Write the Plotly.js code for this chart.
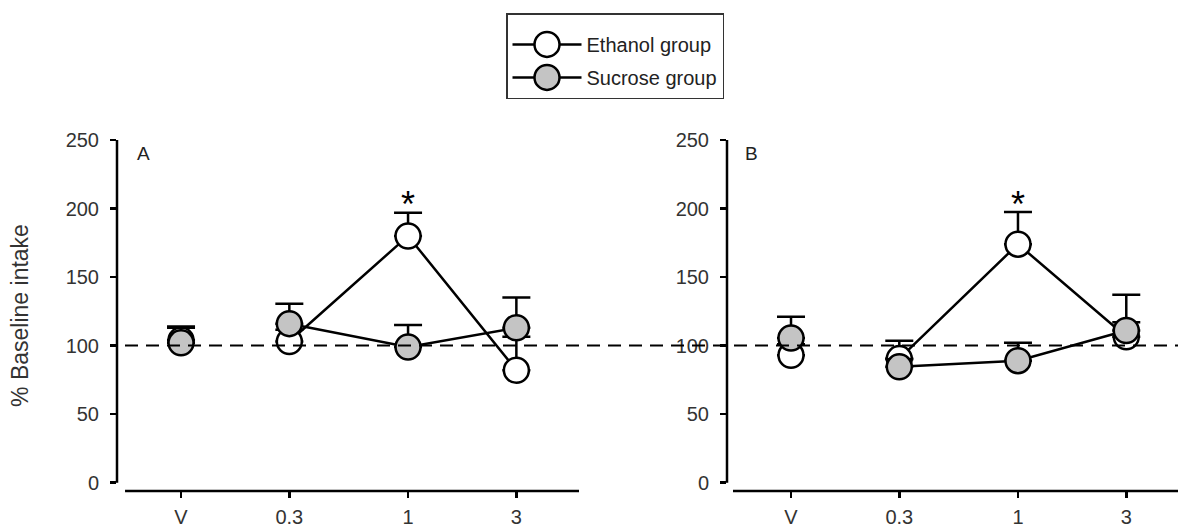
<!DOCTYPE html>
<html>
<head>
<meta charset="utf-8">
<script src="https://cdn.plot.ly/plotly-3.0.1.min.js"></script>
<style>html,body{margin:0;padding:0;background:#fff;} #chart{width:1178px;height:527px;}</style>
</head>
<body>
<div id="chart"></div>
<script>
// Dose categories (V = vehicle, drawn at the 0.1 position of the log dose axis)
const doseLabels = ["V", "0.3", "1", "3"];
const doseValues = [0.1, 0.3, 1, 3];
const yTicks = [0, 50, 100, 150, 200, 250];

// Panel A
const A_ethanol     = [104, 103, 180, 82];
const A_ethanol_err = [10, 8.5, 17, 24.5];
const A_sucrose     = [102, 116, 99, 113];
const A_sucrose_err = [11, 14.5, 16, 22];

// Panel B
const B_ethanol     = [93, 90.5, 174, 106.5];
const B_ethanol_err = [8, 13, 23.5, 10.5];
const B_sucrose     = [105.5, 84.5, 89, 111];
const B_sucrose_err = [15.5, 5.5, 13, 26];

const baseline = 100;
const sigDose = 1;

const W = 1178, H = 527;
const M = {l: 0, r: 0, t: 140, b: 36};
const PH = H - M.t - M.b;
const FONT = "Liberation Sans, Arial, sans-serif";
const markerBase = {size: 25, line: {color: "#000", width: 2.5}};

function errY(arr) {
  return {type: "data", symmetric: false, array: arr, arrayminus: arr.map(() => 0),
          color: "#000", thickness: 2.5, width: 14};
}

function panelTraces(eth, ethErr, suc, sucErr, xa, ya, legend) {
  const doseX = doseValues.slice(1);
  return [
    {x: doseX, y: eth.slice(1), error_y: errY(ethErr.slice(1)), xaxis: xa, yaxis: ya,
     mode: "lines+markers", name: "Ethanol group", legendgroup: "eth", showlegend: legend,
     line: {color: "#000", width: 2.5}, marker: Object.assign({color: "#fff"}, markerBase)},
    {x: [doseValues[0]], y: [eth[0]], error_y: errY([ethErr[0]]), xaxis: xa, yaxis: ya,
     mode: "markers", name: "Ethanol group", legendgroup: "eth", showlegend: false,
     marker: Object.assign({color: "#fff"}, markerBase)},
    {x: doseX, y: suc.slice(1), error_y: errY(sucErr.slice(1)), xaxis: xa, yaxis: ya,
     mode: "lines+markers", name: "Sucrose group", legendgroup: "suc", showlegend: legend,
     line: {color: "#000", width: 2.5}, marker: Object.assign({color: "#c4c4c4"}, markerBase)},
    {x: [doseValues[0]], y: [suc[0]], error_y: errY([sucErr[0]]), xaxis: xa, yaxis: ya,
     mode: "markers", name: "Sucrose group", legendgroup: "suc", showlegend: false,
     marker: Object.assign({color: "#c4c4c4"}, markerBase)}
  ];
}

const data = [].concat(
  panelTraces(A_ethanol, A_ethanol_err, A_sucrose, A_sucrose_err, "x", "y", true),
  panelTraces(B_ethanol, B_ethanol_err, B_sucrose, B_sucrose_err, "x2", "y2", false)
);

const tickFont = {family: FONT, size: 20, color: "#333"};
function xAxis(domain, range, anchor) {
  return {type: "log", domain: domain, range: range, tickvals: doseValues, ticktext: doseLabels,
          ticks: "outside", ticklen: 6, tickwidth: 2.5, tickcolor: "#000", anchor: anchor,
          showline: false, showgrid: false, zeroline: false, tickfont: tickFont,
          ticklabelstandoff: 2, fixedrange: true, automargin: false};
}
function yAxis(anchor, withTitle) {
  const ax = {range: [-6.1, 250], tickvals: yTicks, ticks: "outside", ticklen: 6, tickwidth: 2.5,
          tickcolor: "#000", showline: false, showgrid: false, zeroline: false, anchor: anchor,
          tickfont: tickFont, ticklabelstandoff: 7, fixedrange: true, automargin: false};
  if (withTitle) ax.title = {text: "% Baseline intake", font: {family: FONT, size: 23, color: "#333"}, standoff: 30};
  return ax;
}

const shapes = [];
[["x", "y"], ["x2", "y2"]].forEach(([xa, ya], i) => {
  shapes.push({type: "line", xref: xa + " domain", yref: ya, x0: 0, x1: 0, y0: 0, y1: 250,
               line: {color: "#000", width: 2.5}});
  shapes.push({type: "line", xref: xa + " domain", yref: ya + " domain", x0: i === 0 ? 0.0174 : 0.0133, x1: 1,
               y0: 0, y1: 0, line: {color: "#000", width: 2.5}});
});
shapes.push({type: "line", xref: "paper", yref: "y", x0: 125 / W, x1: 1, y0: baseline, y1: baseline,
             line: {color: "#000", width: 2, dash: "13px,8px"}});

const annotations = [
  {xref: "x domain", yref: "y", x: 0.038, y: 240.5, text: "A", showarrow: false,
   font: {family: FONT, size: 19, color: "#222"}},
  {xref: "x2 domain", yref: "y2", x: 0.035, y: 240.5, text: "B", showarrow: false,
   font: {family: FONT, size: 19, color: "#222"}},
  {xref: "x", yref: "y", x: Math.log10(sigDose), y: 203, text: "*", showarrow: false,
   font: {family: FONT, size: 36, color: "#000"}},
  {xref: "x2", yref: "y2", x: Math.log10(sigDose), y: 203, text: "*", showarrow: false,
   font: {family: FONT, size: 36, color: "#000"}}
];

const layout = {
  width: W, height: H,
  margin: Object.assign({autoexpand: false}, M),
  paper_bgcolor: "#fff", plot_bgcolor: "rgba(0,0,0,0)",
  xaxis: xAxis([117 / W, 579 / W], [-1.282, 0.753], "y"),
  yaxis: yAxis("x", true),
  xaxis2: xAxis([727 / W, 1], [-1.282, 0.705], "y2"),
  yaxis2: yAxis("x2", false),
  showlegend: true,
  legend: {xref: "paper", yref: "paper", x: 506 / W, y: (H - M.b - 13) / PH, xanchor: "left", yanchor: "top",
           bgcolor: "#fff", bordercolor: "#333", borderwidth: 1.5, itemwidth: 69, tracegroupgap: 4,
           title: {text: " ", font: {family: FONT, size: 8}},
           font: {family: FONT, size: 20, color: "#222"}, itemclick: false, itemdoubleclick: false},
  shapes: shapes,
  annotations: annotations
};

Plotly.newPlot("chart", data, layout, {displayModeBar: false, staticPlot: true}).then(gd => {
  // enlarge legend circles to match the plotted marker size
  const r = markerBase.size / 2;
  const d = "M" + r + ",0A" + r + "," + r + " 0 1,1 0,-" + r + "A" + r + "," + r + " 0 0,1 " + r + ",0Z";
  gd.querySelectorAll(".legend .legendpoints path.scatterpts").forEach(p => p.setAttribute("d", d));
});
</script>
</body>
</html>
